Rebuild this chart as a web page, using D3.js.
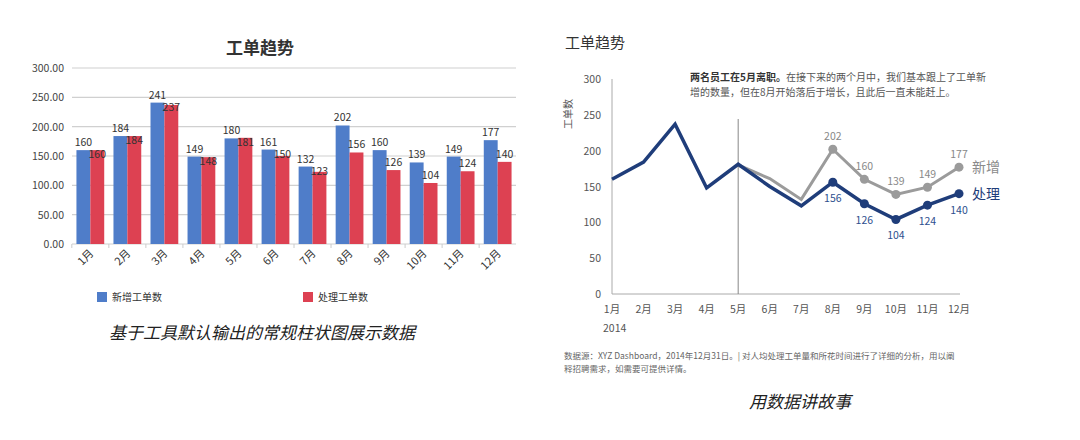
<!DOCTYPE html>
<html><head><meta charset="utf-8">
<script src="https://cdn.jsdelivr.net/npm/d3@7"></script>
<style>body{margin:0;background:#fff;font-family:"Noto Sans CJK SC","Noto Sans",sans-serif;}</style>
</head><body><svg id="c" width="1080" height="440"></svg>
<script>
var months = ["1月","2月","3月","4月","5月","6月","7月","8月","9月","10月","11月","12月"];
var newTickets = [160,184,241,149,180,161,132,202,160,139,149,177];
var doneTickets = [160,184,237,148,181,150,123,156,126,104,124,140];
var leftTicks = [0,50,100,150,200,250,300];
var rightTicks = [0,50,100,150,200,250,300];
var labelFrom = 7; // 8月 onward labelled on the story chart

var svg = d3.select("#c");
var FONT = '"Noto Sans CJK SC", sans-serif';

// ---------- left: default bar chart ----------
var L = svg.append("g");
var lx = d3.scaleBand().domain(months).range([72, 516]).paddingInner(0.25).paddingOuter(0.12);
var ly = d3.scaleLinear().domain([0, 300]).range([244, 68]);

L.append("text").attr("x", 260).attr("y", 54).attr("text-anchor", "middle")
    .attr("font-size", 17).attr("font-weight", "bold").attr("fill", "#333").text("工单趋势");

L.selectAll(".grid").data(leftTicks).enter().append("line")
    .attr("x1", 72).attr("x2", 516).attr("y1", function(d){return ly(d);}).attr("y2", function(d){return ly(d);})
    .attr("stroke", "#d0d0d0").attr("stroke-width", 1.2);
L.selectAll(".yt").data(leftTicks).enter().append("text")
    .attr("x", 64).attr("y", function(d){return ly(d) + 4;}).attr("text-anchor", "end")
    .attr("font-size", 10.5).attr("fill", "#444").text(function(d){return d.toFixed(2);});
L.selectAll(".xt").data(months).enter().append("line")
    .attr("x1", function(d){return lx(d) - lx.step()*lx.paddingInner()/2;})
    .attr("x2", function(d){return lx(d) - lx.step()*lx.paddingInner()/2;})
    .attr("y1", 244).attr("y2", 248).attr("stroke", "#ccc");

var bw = lx.bandwidth() / 2;
var series = [{v: newTickets, c: "#4f7dc9", off: 0, dy: -4}, {v: doneTickets, c: "#dd4152", off: bw, dy: -4}];
series.forEach(function(s, si) {
    L.selectAll(".b" + si).data(s.v).enter().append("rect")
        .attr("x", function(d, i){return lx(months[i]) + s.off;})
        .attr("y", function(d){return ly(d);})
        .attr("width", bw).attr("height", function(d){return ly(0) - ly(d);})
        .attr("fill", s.c);
    L.selectAll(".l" + si).data(s.v).enter().append("text")
        .attr("x", function(d, i){return lx(months[i]) + s.off + bw/2;})
        .attr("y", function(d, i){
            var y = ly(d) - 4;
            if (si == 1 && Math.abs(d - newTickets[i]) < 12) y = ly(Math.max(d, newTickets[i])) + 8;
            if (si == 0) y = ly(d) - 4;
            return y;
        })
        .attr("text-anchor", "middle").attr("font-size", 10.5).attr("fill", "#333").text(function(d){return d;});
});
L.selectAll(".xl").data(months).enter().append("text")
    .attr("transform", function(d){return "translate(" + (lx(d) + lx.bandwidth()/2 + 4) + ",254) rotate(-45)";})
    .attr("text-anchor", "end").attr("font-size", 11).attr("fill", "#333").text(function(d){return d;});

var legend = [{t: "新增工单数", c: "#4f7dc9", x: 97}, {t: "处理工单数", c: "#dd4152", x: 303}];
legend.forEach(function(d) {
    L.append("rect").attr("x", d.x).attr("y", 292).attr("width", 10).attr("height", 10).attr("fill", d.c);
    L.append("text").attr("x", d.x + 15).attr("y", 301).attr("font-size", 10).attr("fill", "#333").text(d.t);
});
L.append("text").attr("x", 262).attr("y", 339).attr("text-anchor", "middle")
    .attr("font-size", 17).attr("font-style", "italic").attr("fill", "#222").text("基于工具默认输出的常规柱状图展示数据");

// ---------- right: story line chart ----------
var R = svg.append("g");
var rx = d3.scalePoint().domain(months).range([612, 959]);
var ry = d3.scaleLinear().domain([0, 300]).range([294, 79]);

R.append("text").attr("x", 565).attr("y", 48).attr("font-size", 15).attr("fill", "#333").text("工单趋势");
R.append("text").attr("transform", "translate(572,114) rotate(-90)").attr("text-anchor", "middle")
    .attr("font-size", 10).attr("fill", "#555").text("工单数");

R.append("line").attr("x1", 612).attr("x2", 612).attr("y1", 79).attr("y2", 294).attr("stroke", "#aaa");
R.append("line").attr("x1", 612).attr("x2", 960).attr("y1", 294).attr("y2", 294).attr("stroke", "#aaa");
R.selectAll(".yt").data(rightTicks).enter().append("text")
    .attr("x", 601).attr("y", function(d){return ry(d) + 4;}).attr("text-anchor", "end")
    .attr("font-size", 10.5).attr("fill", "#555").text(function(d){return d;});
R.selectAll(".xt").data(months).enter().append("text")
    .attr("x", function(d){return rx(d);}).attr("y", 313).attr("text-anchor", "middle")
    .attr("font-size", 10.5).attr("fill", "#555").text(function(d){return d;});
R.append("text").attr("x", 603).attr("y", 332).attr("font-size", 10.5).attr("fill", "#555").text("2014");

R.append("line").attr("x1", rx("5月")).attr("x2", rx("5月")).attr("y1", 119).attr("y2", 294)
    .attr("stroke", "#888").attr("stroke-width", 1);

var line = d3.line().x(function(d, i){return rx(months[i]);}).y(function(d){return ry(d);});
var lineFrom = d3.line().x(function(d){return rx(months[d.i]);}).y(function(d){return ry(d.v);});
var grayPts = newTickets.map(function(v, i){return {v: v, i: i};}).slice(4);
R.append("path").attr("d", lineFrom(grayPts)).attr("fill", "none").attr("stroke", "#9b9b9b").attr("stroke-width", 3);
R.append("path").attr("d", line(doneTickets)).attr("fill", "none").attr("stroke", "#1f3d7a").attr("stroke-width", 3.5);

var gLab = grayPts.filter(function(d){return d.i >= labelFrom;});
R.selectAll(".gd").data(gLab).enter().append("circle")
    .attr("cx", function(d){return rx(months[d.i]);}).attr("cy", function(d){return ry(d.v);})
    .attr("r", 4.5).attr("fill", "#9b9b9b");
R.selectAll(".gl").data(gLab).enter().append("text")
    .attr("x", function(d){return rx(months[d.i]);}).attr("y", function(d){return ry(d.v) - 9;})
    .attr("text-anchor", "middle").attr("font-size", 10.5).attr("fill", "#888").text(function(d){return d.v;});
var bLab = doneTickets.map(function(v, i){return {v: v, i: i};}).filter(function(d){return d.i >= labelFrom;});
R.selectAll(".bd").data(bLab).enter().append("circle")
    .attr("cx", function(d){return rx(months[d.i]);}).attr("cy", function(d){return ry(d.v);})
    .attr("r", 4.5).attr("fill", "#1f3d7a");
R.selectAll(".bl").data(bLab).enter().append("text")
    .attr("x", function(d){return rx(months[d.i]);}).attr("y", function(d){return ry(d.v) + 20;})
    .attr("text-anchor", "middle").attr("font-size", 10.5).attr("fill", "#2d4f8e").text(function(d){return d.v;});

R.append("text").attr("x", 972).attr("y", ry(newTickets[11]) + 5).attr("font-size", 14).attr("fill", "#8a8a8a").text("新增");
R.append("text").attr("x", 972).attr("y", ry(doneTickets[11]) + 5).attr("font-size", 14).attr("fill", "#1f3d7a").text("处理");

var ann = R.append("text").attr("x", 690).attr("y", 81).attr("font-size", 10).attr("fill", "#555");
ann.append("tspan").attr("font-weight", "bold").attr("fill", "#333").text("两名员工在5月离职。");
ann.append("tspan").text("在接下来的两个月中，我们基本跟上了工单新");
R.append("text").attr("x", 690).attr("y", 96).attr("font-size", 10).attr("fill", "#555")
    .text("增的数量，但在8月开始落后于增长，且此后一直未能赶上。");

R.append("text").attr("x", 564).attr("y", 359).attr("font-size", 8.5).attr("fill", "#666")
    .text("数据源：XYZ Dashboard，2014年12月31日。| 对人均处理工单量和所花时间进行了详细的分析，用以阐");
R.append("text").attr("x", 564).attr("y", 372).attr("font-size", 8.5).attr("fill", "#666")
    .text("释招聘需求，如需要可提供详情。");
R.append("text").attr("x", 800).attr("y", 408).attr("text-anchor", "middle")
    .attr("font-size", 17).attr("font-style", "italic").attr("fill", "#222").text("用数据讲故事");
</script></body></html>
